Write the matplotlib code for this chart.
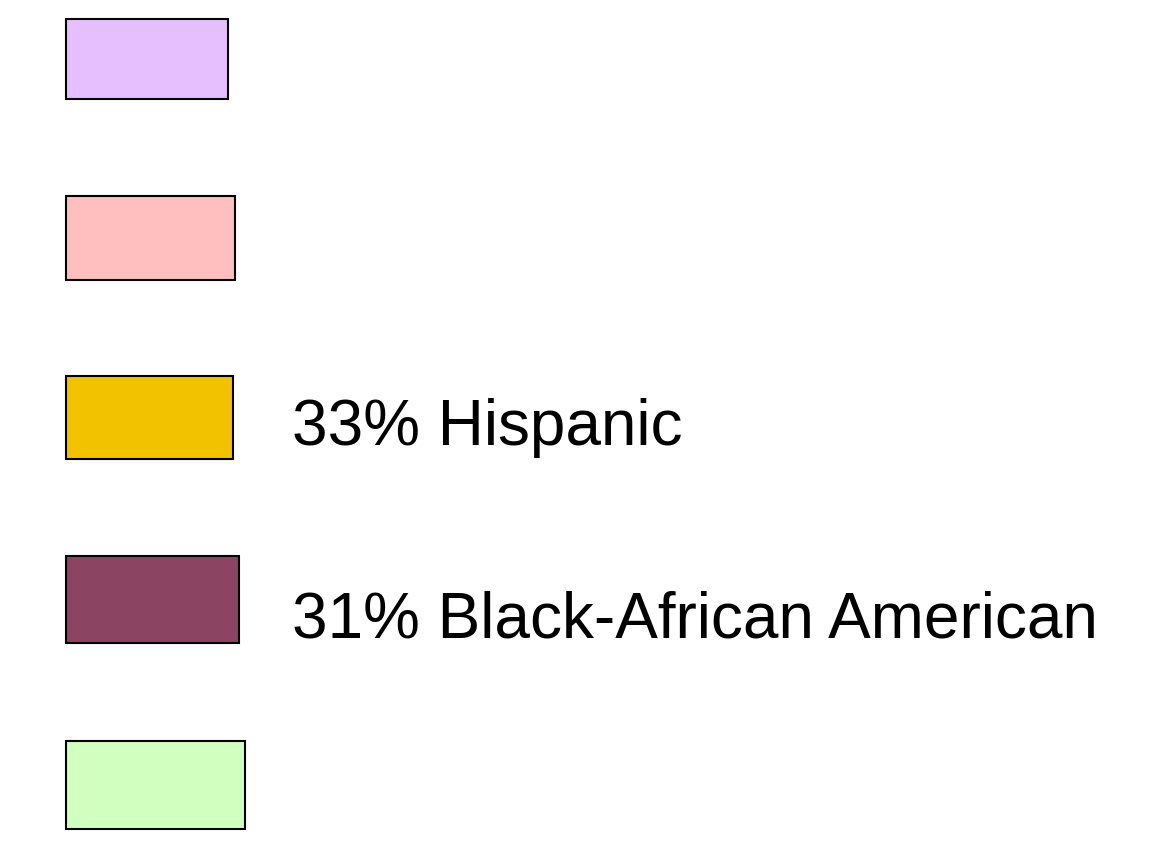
import matplotlib
matplotlib.use("Agg")
import matplotlib.pyplot as plt
from matplotlib.patches import Rectangle

# Data
labels = ["", "", "33% Hispanic", "31% Black-African American", ""]
colors = ["#E6BFFF", "#FFBFBF", "#F2C200", "#8B4563", "#D1FFBF"]

# Layout (pixel coordinates, top-left origin)
box_left = 66
box_right = [228, 235, 233, 239, 245]
box_top = [19, 196, 376, 556, 741]
box_bottom = [99, 280, 459, 643, 829]
text_x = 292
text_baseline = [0, 0, 445, 637, 0]

fig = plt.figure(figsize=(11.75, 8.41), dpi=100)
ax = fig.add_axes([0, 0, 1, 1])
ax.set_xlim(0, 1175)
ax.set_ylim(841, 0)
ax.axis("off")

for lab, col, r, t, b, ty in zip(labels, colors, box_right, box_top, box_bottom, text_baseline):
    ax.add_patch(Rectangle((box_left, t), r - box_left, b - t,
                           facecolor=col, edgecolor="black", linewidth=1.5))
    if lab:
        ax.text(text_x, ty, lab, fontsize=46, family="Liberation Sans",
                va="baseline", ha="left", color="black")

fig.savefig("out.png", dpi=100)
